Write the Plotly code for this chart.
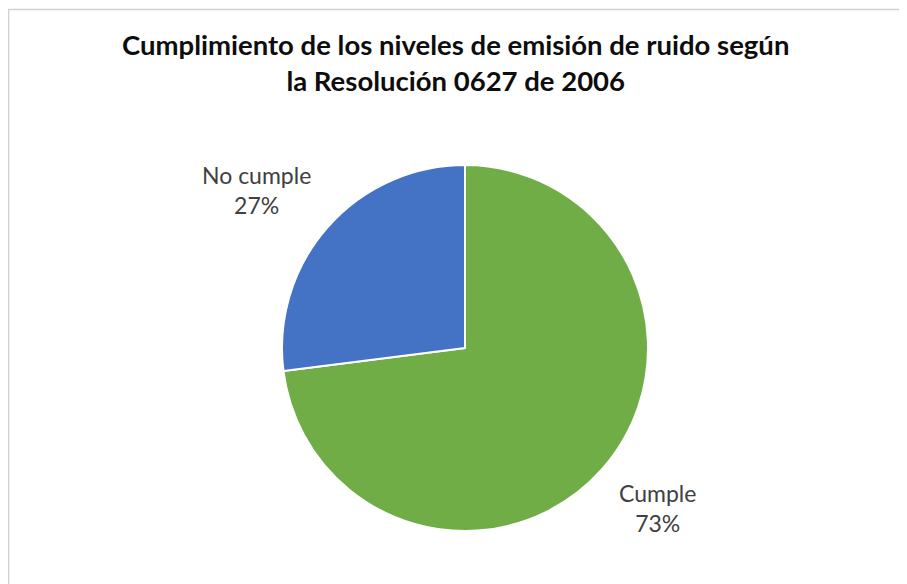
import plotly.graph_objects as go

categories = ["Cumple", "No cumple"]
values = [73, 27]
colors = ["#70AD47", "#4472C4"]
title_text = "Cumplimiento de los niveles de emisión de ruido según<br>la Resolución 0627 de 2006"

W, H = 907, 584
OFF = 8  # page body margin offset
cx, cy, R = 465 - OFF, 348 - OFF, 183

fig = go.Figure(go.Pie(
    labels=categories,
    values=values,
    marker=dict(colors=colors, line=dict(color="white", width=2)),
    sort=False,
    direction="clockwise",
    rotation=0,
    textinfo="none",
    hoverinfo="label+percent",
    showlegend=False,
    domain=dict(x=[(cx - R) / W, (cx + R) / W], y=[(H - cy - R) / H, (H - cy + R) / H]),
))

total = sum(values)
label_pos = {"No cumple": (257, 190), "Cumple": (657, 508)}
for c, v in zip(categories, values):
    px, py = label_pos[c]
    fig.add_annotation(
        x=(px - OFF) / W, y=1 - (py - OFF) / H, xref="paper", yref="paper",
        xanchor="center", yanchor="middle",
        text=f"{c}<br>{round(100 * v / total)}%",
        showarrow=False, align="center",
        font=dict(family="Lato", size=23, color="#404040"),
    )

fig.add_annotation(
    x=(455 - OFF) / W, y=1 - (63 - OFF) / H, xref="paper", yref="paper",
    xanchor="center", yanchor="middle",
    text=f"<b>{title_text}</b>", showarrow=False, align="center",
    font=dict(family="Lato", size=27.5, color="#0d0d0d"),
)

fig.add_shape(type="rect", xref="paper", yref="paper",
              x0=(8.5 - OFF) / W, x1=1.02, y0=-0.02, y1=1 - (9.5 - OFF) / H,
              line=dict(color="#d0d0d0", width=1.5), fillcolor="rgba(0,0,0,0)")

fig.update_layout(
    width=W, height=H,
    margin=dict(l=0, r=0, t=0, b=0),
    paper_bgcolor="white", plot_bgcolor="white",
)

fig.write_html("out.html")
